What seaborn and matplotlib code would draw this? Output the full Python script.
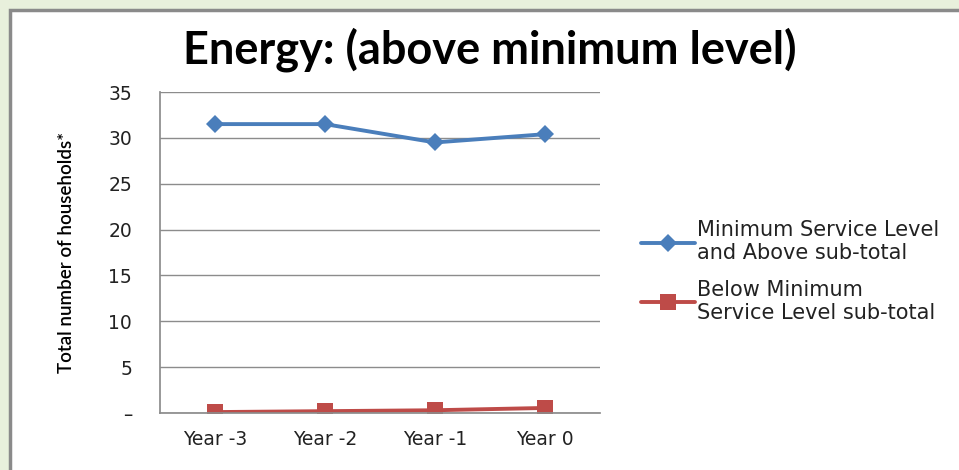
import pandas as pd
import matplotlib.pyplot as plt
import seaborn as sns
from matplotlib.patches import Rectangle

# ============================================================
# Data
# ============================================================
years = ["Year -3", "Year -2", "Year -1", "Year 0"]
above_min = [31.5, 31.5, 29.5, 30.4]
below_min = [0.1, 0.2, 0.3, 0.55]
series_names = ["Minimum Service Level\nand Above sub-total",
                "Below Minimum\nService Level sub-total"]
y_ticks = [0, 5, 10, 15, 20, 25, 30, 35]
y_tick_labels = ["\u2013", "5", "10", "15", "20", "25", "30", "35"]

df = pd.DataFrame({
    "Year": years * 2,
    "Households": above_min + below_min,
    "Series": [series_names[0]] * 4 + [series_names[1]] * 4,
})

# ============================================================
# Plot
# ============================================================
sns.set_theme(style="white")
plt.rcParams["font.family"] = ["DejaVu Sans"]

fig = plt.figure(figsize=(9.59, 4.70), dpi=100)
fig.patch.set_facecolor("#e8f0dc")

# white inner panel with grey border
panel = Rectangle((10 / 959, -0.05), 1.0, 1 - 10 / 470 + 0.05,
                  transform=fig.transFigure, facecolor="white",
                  edgecolor="#8a8a8a", linewidth=2.5, zorder=-5)
fig.patches.append(panel)

ax = fig.add_axes([160 / 959, 1 - 413 / 470, 440 / 959, 321 / 470])
ax.set_zorder(2)
ax.set_facecolor("white")

blue, red = "#4a7ebb", "#be4b48"
palette = {series_names[0]: blue, series_names[1]: red}
markers = {series_names[0]: "D", series_names[1]: "s"}
sns.lineplot(data=df, x="Year", y="Households", hue="Series", style="Series",
             palette=palette, markers=markers, dashes=False, linewidth=2.8,
             markersize=10, markeredgewidth=0, ax=ax, sort=False)

ax.set_xlim(-0.5, 3.5)
ax.set_ylim(0, 35)
ax.set_yticks(y_ticks)
ax.set_yticklabels(y_tick_labels)
ax.yaxis.grid(True, color="#8c8c8c", linewidth=1)
ax.set_axisbelow(True)
for side in ["top", "right"]:
    ax.spines[side].set_visible(False)
ax.spines["left"].set_color("#8c8c8c")
ax.spines["bottom"].set_color("#8c8c8c")
ax.tick_params(axis="both", length=0, labelsize=13.5, colors="#222222")
ax.tick_params(axis="x", pad=12)
ax.tick_params(axis="y", pad=20)

ax.set_xlabel("")
ax.set_ylabel("Total number of households*", fontsize=13.5, color="black",
              fontweight="semibold", family=["Lato", "DejaVu Sans"], labelpad=24)

fig.text(490 / 959, 1 - 50 / 470, "Energy: (above minimum level)", ha="center",
         va="center", fontsize=32.5, fontweight="bold", color="black",
         family=["Lato", "DejaVu Sans"])

leg = ax.legend(loc="center left", bbox_to_anchor=(1.05, 0.44), frameon=False,
                fontsize=15, handlelength=2.6, handletextpad=0.1,
                labelspacing=0.8)
leg.set_title(None)
for t in leg.get_texts():
    t.set_color("#222222")

# marker sizes per series (squares are drawn larger than diamonds)
for line in list(ax.lines) + list(leg.legend_handles):
    if line.get_marker() == "s":
        line.set_markersize(11.5)
    elif line.get_marker() == "D":
        line.set_markersize(9)

fig.savefig("out.png", dpi=100, facecolor=fig.get_facecolor())
